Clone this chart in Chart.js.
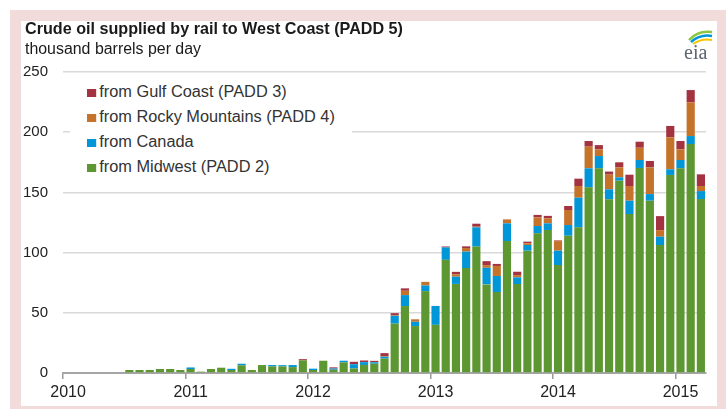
<!DOCTYPE html>
<html lang="en">
<head>
    <meta charset="UTF-8">
    <title>Crude oil supplied by rail to West Coast (PADD 5)</title>
    <style>
        body {
            margin: 0;
            padding: 0;
            background: #fff;
            font-family: "Liberation Sans", Arial, sans-serif;
        }
        .wrap {
            position: relative;
            width: 726px;
            height: 409px;
            overflow: hidden;
        }
        .frame {
            position: absolute;
            left: 10px;
            top: 10px;
            width: 716px;
            height: 399px;
            background: #f2dcdb;
        }
        .panel {
            position: absolute;
            left: 21px;
            top: 21px;
            width: 696px;
            height: 385px;
            background: #fff;
        }
        .title, .subtitle, .legend-item {
            white-space: nowrap;
            transform-origin: left center;
        }
        .title, .subtitle {
            position: absolute;
            left: 25px;
            color: #1a1a1a;
        }
        .title {
            top: 20px;
            font-size: 17px;
            line-height: 18px;
            font-weight: bold;
        }
        .subtitle {
            top: 40px;
            font-size: 16px;
            line-height: 18px;
        }
        #chart-box {
            position: absolute;
            left: 0;
            top: 0;
            width: 726px;
            height: 409px;
        }
        .legend {
            position: absolute;
            left: 70px;
            top: 79px;
            width: 282px;
            height: 100px;
            background: #fff;
        }
        .legend-item {
            position: absolute;
            left: 17px;
            height: 25px;
            line-height: 25px;
            font-size: 16px;
            color: #333;
        }
        .legend-item span {
            display: inline-block;
            width: 9px;
            height: 8px;
            margin-right: 3px;
            vertical-align: 0px;
        }
        .logo {
            position: absolute;
            left: 680px;
            top: 28px;
        }
    </style>
</head>
<body>
<div class="wrap">
    <div class="frame"></div>
    <div class="panel"></div>
    <div id="chart-box"><canvas id="chart"></canvas></div>
    <div class="title" data-w="378">Crude oil supplied by rail to West Coast (PADD 5)</div>
    <div class="subtitle" data-w="176">thousand barrels per day</div>
    <div class="legend" id="legend"></div>
    <svg class="logo" width="36" height="34" viewBox="0 0 36 34">
        <path d="M9 12 Q18 2 32 4" stroke="#8cc63f" stroke-width="2.5" fill="none"/>
        <path d="M11 14 Q20 6 32 8" stroke="#0096d7" stroke-width="2.5" fill="none"/>
        <path d="M13 16 Q22 10 32 12" stroke="#f2c500" stroke-width="2" fill="none"/>
        <text x="4" y="31" font-family="Liberation Serif, serif" font-size="20" fill="#5a6672">eia</text>
    </svg>
</div>

<script src="https://cdn.jsdelivr.net/npm/chart.js"></script>
<script>
    // months Jan 2010 .. Mar 2015
    const months = [];
    for (let y = 2010; y <= 2015; y++) {
        for (let m = 1; m <= 12; m++) {
            if (y === 2015 && m > 3) break;
            months.push(y + '-' + String(m).padStart(2, '0'));
        }
    }
    const yearLabels = ['2010', '2011', '2012', '2013', '2014', '2015'];
    const yTicks = [0, 50, 100, 150, 200, 250];

    // thousand barrels per day
    const midwest = [
        0, 0, 0, 0, 0, 0, 2.5, 2.5, 2.5, 3.3, 3.3, 2.5,
        3.3, 1.1, 3.3, 4.4, 2.5, 6.4, 2.5, 6.6, 5.5, 5.5, 4.9, 10.5,
        2.5, 10.2, 2.7, 8.8, 3.8, 6.7, 7.7, 12, 41, 55.6, 39, 68,
        40, 94, 74, 87.2, 105, 73.6, 67.3, 109.6, 73.9, 101.6, 116, 118.8,
        89.7, 114, 121, 154.2, 170, 144.3, 159.7, 132, 170.3, 143.1, 106.3, 164.5,
        170, 190.2, 144.5
    ];
    const canada = [
        0, 0, 0, 0, 0, 0, 0, 0, 0, 0, 0, 0,
        1.3, 0, 0, 0, 1, 1.3, 0, 0, 1.1, 1, 1.7, 0,
        1.1, 0, 1, 1.4, 3.5, 2.3, 1.2, 1.5, 6.5, 9.1, 3.6, 4.7,
        15.7, 10.3, 6, 13.6, 16, 13.8, 13.3, 14.7, 5.5, 4.7, 6.1, 5.5,
        11.9, 8.9, 24.6, 15.8, 10.2, 8.3, 2.8, 11.1, 6.6, 5.5, 6.9, 4.7,
        6.9, 6.6, 6.6
    ];
    const rocky = [
        0, 0, 0, 0, 0, 0, 0, 0, 0, 0, 0, 0,
        0, 0, 0, 0, 0, 0, 0, 0, 0, 0, 0, 0,
        0, 0, 0, 0, 0, 0, 0, 0.5, 0.5, 3.6, 2, 3,
        0, 0, 2, 3, 0.5, 2.2, 8.3, 3.3, 1.9, 1.4, 7.2, 4.2,
        8, 12.5, 9.7, 18, 5.5, 12.2, 8.3, 12.2, 10.2, 22.2, 5.5, 26.6,
        8.9, 28, 4.2
    ];
    const gulf = [
        0, 0, 0, 0, 0, 0, 0, 0, 0, 0, 0, 0,
        0, 0, 0, 0, 0, 0, 0, 0, 0, 0, 0, 1,
        0, 0, 1, 0, 2, 1.4, 1.2, 2.5, 1.7, 2, 0, 0,
        0, 0.8, 2, 1.4, 2.5, 3.3, 1.7, 0, 2.8, 1.4, 2, 2,
        0.5, 3.3, 6.1, 4.7, 3.6, 2.5, 4.2, 9.4, 5, 5.3, 11.6, 9.4,
        6.9, 10.2, 9.7
    ];

    const series = [
        { label: 'from Midwest (PADD 2)', data: midwest, color: '#5d9732' },
        { label: 'from Canada', data: canada, color: '#0096d7' },
        { label: 'from Rocky Mountains (PADD 4)', data: rocky, color: '#c5732a' },
        { label: 'from Gulf Coast (PADD 3)', data: gulf, color: '#a33340' }
    ];

    // legend, top row is the top of the stack
    const legend = document.getElementById('legend');
    series.slice().reverse().forEach((s, i) => {
        const item = document.createElement('div');
        item.className = 'legend-item';
        item.style.top = (i * 25) + 'px';
        item.innerHTML = '<span style="background:' + s.color + '"></span>' + s.label;
        legend.appendChild(item);
    });
    // width of the Gulf Coast row in the original
    const firstItem = legend.firstChild;
    const legendScale = 200 / firstItem.offsetWidth;
    legend.querySelectorAll('.legend-item').forEach(el => {
        el.style.transform = 'scaleX(' + legendScale + ')';
    });

    // squeeze the heading text to the narrow look of the original
    document.querySelectorAll('[data-w]').forEach(el => {
        el.style.transform = 'scaleX(' + (el.dataset.w / el.offsetWidth) + ')';
    });

    new Chart(document.getElementById('chart'), {
        type: 'bar',
        data: {
            labels: months,
            datasets: series.map(s => ({
                label: s.label,
                data: s.data,
                backgroundColor: s.color,
                borderWidth: 0,
                barPercentage: 0.8,
                categoryPercentage: 1
            }))
        },
        options: {
            responsive: true,
            maintainAspectRatio: false,
            animation: false,
            layout: { padding: { top: 72, right: 20, left: 0, bottom: 0 } },
            plugins: {
                legend: { display: false },
                tooltip: { enabled: false }
            },
            scales: {
                x: {
                    stacked: true,
                    offset: true,
                    afterFit: scale => { scale.height = 36; },
                    grid: {
                        offset: true,
                        drawOnChartArea: false,
                        tickLength: 6,
                        lineWidth: 1.5,
                        color: ctx => (ctx.index % 12 === 0 ? '#999' : 'rgba(0,0,0,0)')
                    },
                    border: { display: true, color: '#a6a6a6', width: 2 },
                    ticks: {
                        autoSkip: false,
                        maxRotation: 0,
                        padding: 4,
                        color: '#222',
                        font: { family: 'Liberation Sans', size: 16 },
                        callback: (v, i) => (i % 12 === 0 ? yearLabels[i / 12] : '')
                    }
                },
                y: {
                    stacked: true,
                    min: 0,
                    max: 250,
                    afterFit: scale => { scale.width = 63; },
                    afterBuildTicks: scale => { scale.ticks = yTicks.map(v => ({ value: v })); },
                    grid: {
                        drawTicks: false,
                        color: ctx => (ctx.tick && ctx.tick.value === 0 ? 'rgba(0,0,0,0)' : '#d9d9d9'),
                        lineWidth: 1.5
                    },
                    border: { display: false },
                    ticks: {
                        padding: 15,
                        color: '#222',
                        font: { family: 'Liberation Sans', size: 15 }
                    }
                }
            }
        }
    });
</script>
</body>
</html>
